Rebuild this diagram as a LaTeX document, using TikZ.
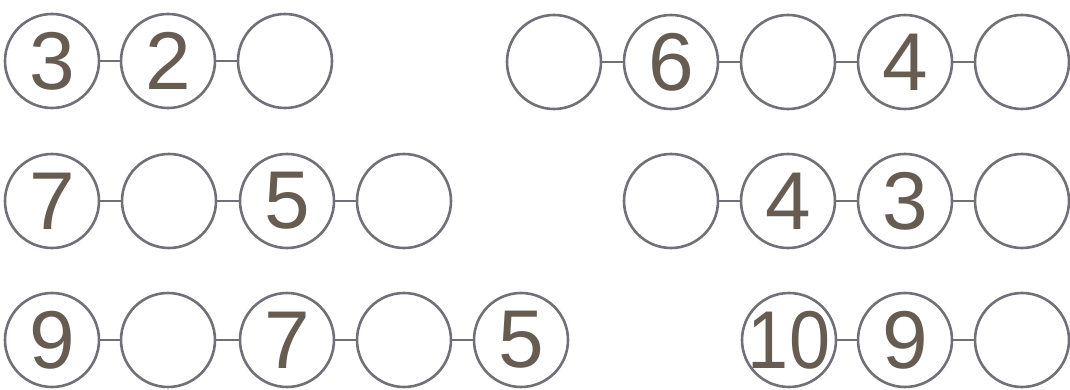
\documentclass[tikz,border=0pt]{standalone}
\usepackage{fontspec}
\setmainfont{Liberation Sans}
\definecolor{ringgray}{RGB}{112,112,120}
\definecolor{digitbrown}{RGB}{102,92,82}

\begin{document}
\begin{tikzpicture}[
  x=1pt, y=1pt,
  line cap=round,
  ball/.style={circle,draw=ringgray,line width=2.6pt,inner sep=0pt,
    minimum size=94pt,text=digitbrown,font=\fontsize{82}{82}\selectfont},
  link/.style={draw=ringgray,line width=2.6pt}
]
  \useasboundingbox (0,0) rectangle (1070,390);

  % first row
  \node[ball] (a1) at (52,329) {3};
  \node[ball] (a2) at (168,329) {2};
  \node[ball] (a3) at (285,329) {};
  \draw[link] (a1) -- (a2) (a2) -- (a3);

  \node[ball] (b1) at (554,328) {};
  \node[ball] (b2) at (671,328) {6};
  \node[ball] (b3) at (788,328) {};
  \node[ball] (b4) at (905,328) {4};
  \node[ball] (b5) at (1022,328) {};
  \draw[link] (b1) -- (b2) (b2) -- (b3) (b3) -- (b4) (b4) -- (b5);

  % second row
  \node[ball] (c1) at (52,189) {7};
  \node[ball] (c2) at (169,189) {};
  \node[ball] (c3) at (287,189) {5};
  \node[ball] (c4) at (404,189) {};
  \draw[link] (c1) -- (c2) (c2) -- (c3) (c3) -- (c4);

  \node[ball] (d1) at (671,189) {};
  \node[ball] (d2) at (788,189) {4};
  \node[ball] (d3) at (905,189) {3};
  \node[ball] (d4) at (1022,189) {};
  \draw[link] (d1) -- (d2) (d2) -- (d3) (d3) -- (d4);

  % third row
  \node[ball] (e1) at (52,50) {9};
  \node[ball] (e2) at (168,50) {};
  \node[ball] (e3) at (287,50) {7};
  \node[ball] (e4) at (404,50) {};
  \node[ball] (e5) at (521,50) {5};
  \draw[link] (e1) -- (e2) (e2) -- (e3) (e3) -- (e4) (e4) -- (e5);

  \node[ball] (f1) at (789,50) {\makebox[0pt]{\scalebox{0.9}[1]{10}}};
  \node[ball] (f2) at (905,50) {9};
  \node[ball] (f3) at (1022,50) {};
  \draw[link] (f1) -- (f2) (f2) -- (f3);
\end{tikzpicture}
\end{document}
